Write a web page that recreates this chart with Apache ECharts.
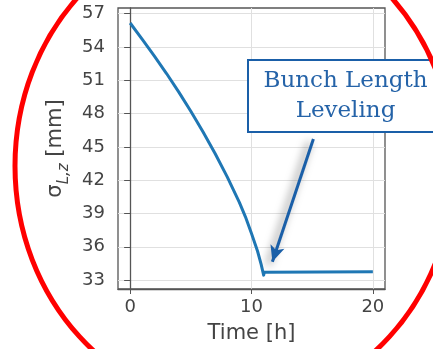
<!DOCTYPE html>
<html>
<head>
<meta charset="utf-8">
<script src="https://cdn.jsdelivr.net/npm/echarts@6/dist/echarts.min.js"></script>
<style>
  html, body { margin: 0; padding: 0; background: #fff; }
  #chart { width: 433px; height: 349px; }
</style>
</head>
<body>
<div id="chart"></div>
<script>
// bunch length vs time
const timeH = [0, 1, 2, 3, 4, 5, 6, 7, 8, 9, 9.5, 10, 10.5, 10.8, 11.0, 11.05, 20];
const sigmaMm = [56.15, 54.67, 53.17, 51.6, 49.95, 48.2, 46.35, 44.4, 42.3, 40.0, 38.7, 37.2, 35.6, 34.4, 33.45, 33.7, 33.75];
const xTicks = [0, 10, 20];
const yTicks = [33, 36, 39, 42, 45, 48, 51, 54, 57];
const arrowFrom = [15.1, 45.7];
const arrowTo = [11.72, 34.66];
const noteLines = ["Bunch Length", "Leveling"];

const chart = echarts.init(document.getElementById("chart"), null, { renderer: "canvas" });

const tickFont = { fontFamily: "DejaVu Sans", fontSize: 18, color: "#444" };
const spine = { show: true, lineStyle: { color: "#555", width: 1.3 } };
const noteFont = { fontFamily: "DejaVu Serif", fontSize: 23, fill: "#2563a8", align: "center", verticalAlign: "middle" };

chart.setOption({
  animation: false,
  backgroundColor: "#fff",
  grid: { left: 118, right: 48, top: 8, bottom: 56, show: true, borderColor: "#555", borderWidth: 1.3 },
  xAxis: {
    type: "value", min: -1, max: 21,
    name: "Time [h]", nameLocation: "middle", nameGap: 34,
    nameTextStyle: { fontFamily: "DejaVu Sans", fontSize: 21, color: "#444" },
    axisLine: spine,
    axisTick: { show: true, length: 5, customValues: xTicks, lineStyle: { color: "#555" } },
    axisLabel: Object.assign({ margin: 9, customValues: xTicks }, tickFont),
    splitLine: { show: true, lineStyle: { color: "#e0e0e0", width: 1 } }
  },
  yAxis: {
    type: "value", min: 32.2, max: 57.5,
    name: "{a|σ}{b|L,z}{a| [mm]}", nameLocation: "middle", nameGap: 46, nameRotate: 90,
    nameTextStyle: {
      color: "#444",
      rich: {
        a: { fontFamily: "DejaVu Sans", fontSize: 21, color: "#444", lineHeight: 26, verticalAlign: "top" },
        b: { fontFamily: "DejaVu Sans", fontStyle: "italic", fontSize: 15, color: "#444", lineHeight: 26, verticalAlign: "bottom", padding: [10, 0, 0, 0] }
      }
    },
    axisLine: spine,
    axisTick: { show: true, length: 6, customValues: yTicks, lineStyle: { color: "#555" } },
    axisLabel: Object.assign({ margin: 13, customValues: yTicks }, tickFont),
    splitLine: { show: true, lineStyle: { color: "#e0e0e0", width: 1 } }
  },
  series: [{
    type: "line",
    data: timeH.map((t, i) => [t, sigmaMm[i]]),
    showSymbol: false,
    symbol: "none",
    lineStyle: { color: "#1f77b4", width: 3, join: "round" },
    markLine: {
      silent: true,
      symbol: ["none", "arrow"],
      symbolSize: [11, 16],
      label: { show: false },
      lineStyle: {
        color: "#1a5fa8", width: 3, type: "solid",
        shadowColor: "rgba(0,0,0,0.55)", shadowBlur: 8, shadowOffsetX: -4, shadowOffsetY: 3
      },
      data: [[{ coord: arrowFrom }, { coord: arrowTo }]]
    }
  }],
  graphic: [
    {
      type: "rect", z: 50, silent: true,
      shape: { x: 248, y: 60, width: 196, height: 72 },
      style: { fill: "#fff", stroke: "#1a5fa8", lineWidth: 2 }
    },
    {
      type: "text", z: 51, silent: true,
      style: Object.assign({ text: noteLines[0], x: 345.5, y: 81 }, noteFont)
    },
    {
      type: "text", z: 51, silent: true,
      style: Object.assign({ text: noteLines[1], x: 345.5, y: 111 }, noteFont)
    },
    {
      type: "ellipse", z: 100, silent: true,
      shape: { cx: 234.5, cy: 166, rx: 219.5, ry: 241 },
      style: { fill: "none", stroke: "#ff0000", lineWidth: 5 }
    }
  ]
});
</script>
</body>
</html>
